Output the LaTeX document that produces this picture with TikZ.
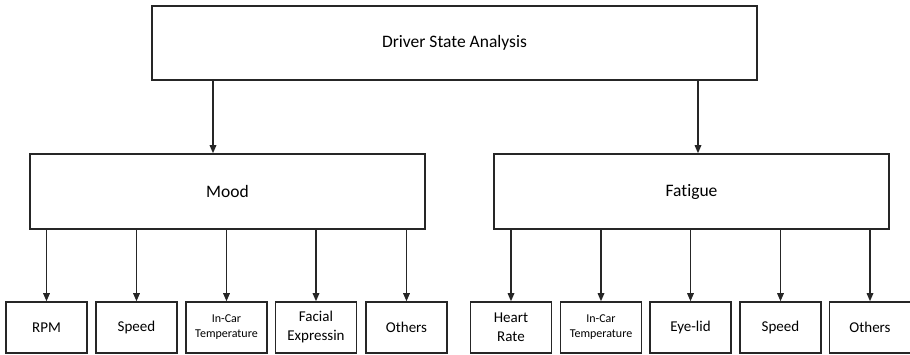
\documentclass[tikz,border=0pt]{standalone}
\usepackage{fontspec}
\setmainfont{Carlito}[Ligatures=CommonOff]
\usetikzlibrary{arrows.meta}
\begin{document}
\begin{tikzpicture}[x=1pt,y=-1pt,
  box/.style={draw=black!85, line width=1.5pt, fill=white, inner sep=0pt, align=center},
  leaf/.style={box, minimum width=81pt, minimum height=51pt, font=\fontsize{15}{18}\selectfont},
  small/.style={box, minimum width=81pt, minimum height=51pt, font=\fontsize{12}{15}\selectfont},
  arr/.style={line width=1.5pt, draw=black!85, -{Triangle[length=8pt,width=6.5pt]}}]
\useasboundingbox (0,0) rectangle (910,355);
\node[box, minimum width=605pt, minimum height=74pt, font=\fontsize{17.5}{21}\selectfont] (top) at (454.5,43) {Driver State Analysis};
\node[box, minimum width=395pt, minimum height=75pt, font=\fontsize{17.5}{21}\selectfont] (mood) at (227.5,191.5) {Mood};
\node[box, minimum width=395pt, minimum height=75pt, font=\fontsize{17.5}{21}\selectfont] (fat) at (691.5,191.5) {Fatigue};
\coordinate (ma) at (213,154);
\coordinate (fa) at (698,154);
\draw[arr] (top.south -| ma) -- (mood.north -| ma);
\draw[arr] (top.south -| fa) -- (fat.north -| fa);
\node[leaf] (rpm) at (46.5,327.5) {RPM};
\node[leaf] (spd1) at (136.5,327.5) {Speed};
\node[small] (tmp1) at (226.5,327.5) {In-Car\\Temperature};
\node[leaf, font=\fontsize{15}{19}\selectfont] (face) at (316,327.5) {Facial\\Expressin};
\node[leaf] (oth1) at (406.5,327.5) {Others};
\node[leaf, font=\fontsize{15}{19}\selectfont] (heart) at (511,327.5) {Heart\\Rate};
\node[small] (tmp2) at (601,327.5) {In-Car\\Temperature};
\node[leaf] (eye) at (690.5,327.5) {Eye-lid};
\node[leaf] (spd2) at (780.5,327.5) {Speed};
\node[leaf] (oth2) at (870,327.5) {Others};
\foreach \c in {rpm,spd1,tmp1,face,oth1}
  \draw[arr] (mood.south -| \c.north) -- (\c.north);
\foreach \c in {heart,tmp2,eye,spd2,oth2}
  \draw[arr] (fat.south -| \c.north) -- (\c.north);
\end{tikzpicture}
\end{document}
